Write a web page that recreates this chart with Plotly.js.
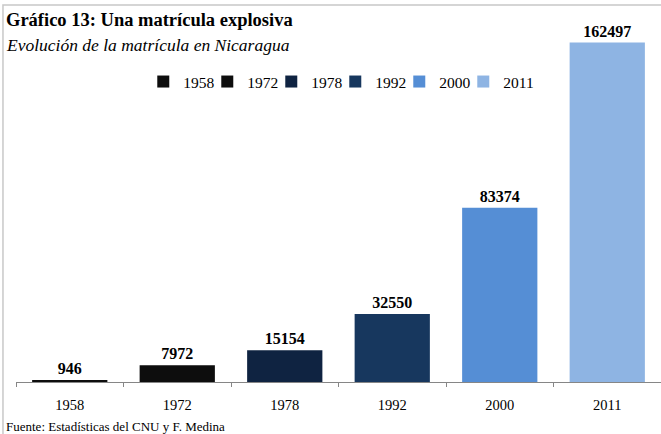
<!DOCTYPE html>
<html><head><meta charset="utf-8">
<script src="https://cdn.plot.ly/plotly-3.0.1.min.js"></script>
<style>html,body{margin:0;padding:0;background:#fff;}#chart{width:661px;height:434px;}</style>
</head><body><div id="chart"></div>
<script>
const years = ["1958","1972","1978","1992","2000","2011"];
const matricula = [946, 7972, 15154, 32550, 83374, 162497];
const colors = ["#0d0d0d","#0d0d0d","#0f2341","#17375e","#558ed5","#8eb4e3"];

const FONT = "Liberation Serif, DejaVu Serif, serif";
const traces = years.map((y, i) => ({
  type: "bar",
  name: y,
  x: [y],
  y: [matricula[i]],
  width: 0.7,
  marker: {color: colors[i]},
  text: [String(matricula[i])],
  textposition: "outside",
  cliponaxis: false,
  textfont: {family: FONT, size: 16, color: "#000", weight: "bold"},
  hoverinfo: "x+y"
}));

const layout = {
  width: 661, height: 434,
  margin: {l: 16, r: 0, t: 6, b: 52},
  paper_bgcolor: "#fff", plot_bgcolor: "#fff",
  barmode: "overlay",
  showlegend: true,
  legend: {orientation: "h", x: 0.495, xanchor: "center", y: 0.798, yanchor: "middle",
           font: {family: FONT, size: 15.5, color: "#000"}, itemwidth: 30, tracegroupgap: 0,
           entrywidth: 19, entrywidthmode: "pixels",
           bgcolor: "rgba(255,255,255,0)"},
  xaxis: {type: "category", categoryorder: "array", categoryarray: years,
          range: [-0.5, 5.5], showline: true, linecolor: "#868686", linewidth: 1,
          ticks: "outside", tickson: "boundaries", ticklen: 4, tickcolor: "#868686",
          ticklabelstandoff: 10,
          tickfont: {family: FONT, size: 14.5, color: "#000"}, showgrid: false, zeroline: false,
          fixedrange: true},
  yaxis: {range: [0, 180000], visible: false, showgrid: false, zeroline: false, fixedrange: true},
  font: {family: FONT},
  shapes: [{type: "rect", xref: "paper", yref: "paper", x0: -0.0202, x1: 1.2, y0: -0.5, y1: 1.0027,
            line: {color: "#c8c8c8", width: 1.5}, fillcolor: "rgba(0,0,0,0)", layer: "below"}],
  annotations: [
    {xref: "paper", yref: "paper", x: -0.0186, y: 0.963, xanchor: "left", yanchor: "middle",
     text: "<b>Gráfico 13: Una matrícula explosiva</b>", showarrow: false,
     font: {family: FONT, size: 18.5, color: "#000"}},
    {xref: "paper", yref: "paper", x: -0.0186, y: 0.896, xanchor: "left", yanchor: "middle",
     text: "<i>Evolución de la matrícula en Nicaragua</i>", showarrow: false,
     font: {family: FONT, size: 17.5, color: "#000"}},
    {xref: "paper", yref: "paper", x: -0.0186, y: -0.118, xanchor: "left", yanchor: "middle",
     text: "Fuente: Estadísticas del CNU y F. Medina", showarrow: false,
     font: {family: FONT, size: 13, color: "#000"}}
  ]
};
Plotly.newPlot("chart", traces, layout, {displayModeBar: false, staticPlot: true}).then(gd => {
  gd.querySelectorAll(".legend .scrollbox").forEach(el => el.removeAttribute("clip-path"));
});
</script></body></html>
